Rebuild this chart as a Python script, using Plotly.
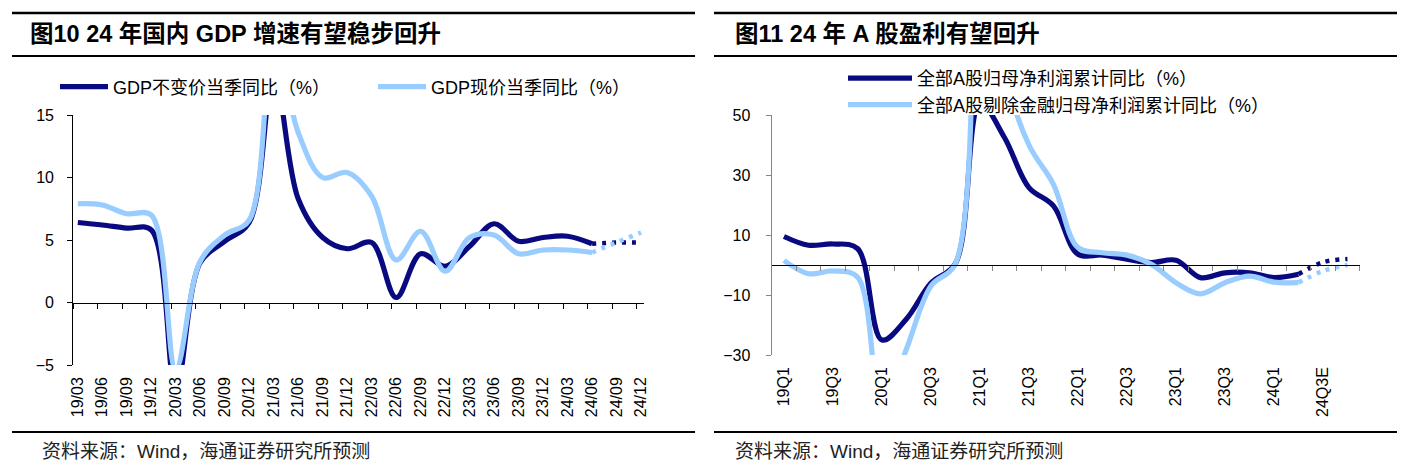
import plotly.graph_objects as go

# page places the figure 8px from the top-left corner (default body margin)
OFF = 8
W, H = 1405 - OFF, 471 - OFF

# ---------------- data ----------------
gdp_quarters = ["19/03", "19/06", "19/09", "19/12", "20/03", "20/06", "20/09", "20/12",
                "21/03", "21/06", "21/09", "21/12", "22/03", "22/06", "22/09", "22/12",
                "23/03", "23/06", "23/09", "23/12", "24/03", "24/06", "24/09", "24/12"]
gdp_real = [6.4, 6.2, 5.95, 5.8, -6.9, 3.2, 4.9, 6.4, 18.3, 8.3, 5.2, 4.3,
            4.8, 0.4, 3.9, 2.9, 4.5, 6.3, 4.9, 5.2, 5.3, 4.7]
gdp_real_fc = [4.7, 4.8, 4.8]          # 24/06 -> 24/12 forecast
gdp_nominal = [7.9, 7.8, 7.1, 7.0, -5.3, 3.3, 5.4, 6.6, 21.2, 13.6, 10.0, 10.4,
               8.5, 3.4, 5.7, 2.5, 5.2, 5.4, 3.9, 4.2, 4.2, 4.0]
gdp_nominal_fc = [4.0, 4.8, 5.6]

eq_quarters = ["19Q1", "19Q2", "19Q3", "19Q4", "20Q1", "20Q2", "20Q3", "20Q4",
               "21Q1", "21Q2", "21Q3", "21Q4", "22Q1", "22Q2", "22Q3", "22Q4",
               "23Q1", "23Q2", "23Q3", "23Q4", "24Q1", "24Q2", "24Q3E", "24Q4E"]
eq_all = [9.5, 6.6, 7.0, 5.5, -25.0, -18.0, -6.0, 0.5, 54.0, 42.5, 25.8, 19.7,
          3.6, 3.3, 1.9, 0.8, 1.6, -4.2, -2.6, -2.6, -4.2, -3.1]
eq_all_fc = [-3.1, 0.9, 2.0]
eq_exfin = [1.5, -2.9, -2.0, -4.0, -48.0, -28.0, -7.0, 0.5, 130.0, 65.0, 40.0, 26.9,
            5.8, 4.1, 3.3, 0.2, -5.9, -9.6, -5.9, -3.7, -5.7, -5.9]
eq_exfin_fc = [-5.9, -2.0, 0.0]

gdp_names = ["GDP不变价当季同比（%）", "GDP现价当季同比（%）"]
eq_names = ["全部A股归母净利润累计同比（%）", "全部A股剔除金融归母净利润累计同比（%）"]
titles = ["<b>图10 24 年国内 GDP 增速有望稳步回升</b>", "<b>图11 24 年 A 股盈利有望回升</b>"]
source = "资料来源：Wind，海通证券研究所预测"

DARK = "#0A0A80"
LIGHT = "#99CCFF"
FONT = "Arial, Liberation Sans, Noto Sans CJK SC, sans-serif"
LW = 5.2
FCW = 4.5
FCDASH = "4px,6px"


def px(v):
    return (v - OFF) / W


def py(v):
    return 1 - (v - OFF) / H


# ---------------- geometry (page pixels) ----------------
L_x0, L_x1 = 73.3, 644.0
L_y0, L_y1 = 115.0, 365.0
L_range = [-0.184, 23.12]
R_x0, R_x1 = 771.7, 1359.7
R_y0, R_y1 = 115.0, 355.0
R_range = [-0.5, 23.5]

fig = go.Figure()

n = len(gdp_real)
fig.add_trace(go.Scatter(x=gdp_quarters[:n], y=gdp_real, name=gdp_names[0], mode="lines",
                         line=dict(color=DARK, width=LW, shape="spline"),
                         xaxis="x", yaxis="y", legend="legend"))
fig.add_trace(go.Scatter(x=gdp_quarters[:n], y=gdp_nominal, name=gdp_names[1], mode="lines",
                         line=dict(color=LIGHT, width=LW, shape="spline"),
                         xaxis="x", yaxis="y", legend="legend"))
fig.add_trace(go.Scatter(x=gdp_quarters[n - 1:], y=gdp_real_fc, mode="lines", showlegend=False,
                         line=dict(color=DARK, width=FCW, dash=FCDASH, shape="spline"),
                         xaxis="x", yaxis="y"))
fig.add_trace(go.Scatter(x=gdp_quarters[n - 1:], y=gdp_nominal_fc, mode="lines", showlegend=False,
                         line=dict(color=LIGHT, width=FCW, dash=FCDASH, shape="spline"),
                         xaxis="x", yaxis="y"))

m = len(eq_all)
fig.add_trace(go.Scatter(x=eq_quarters[:m], y=eq_all, name=eq_names[0], mode="lines",
                         line=dict(color=DARK, width=LW, shape="spline"),
                         xaxis="x2", yaxis="y2", legend="legend2"))
fig.add_trace(go.Scatter(x=eq_quarters[:m], y=eq_exfin, name=eq_names[1], mode="lines",
                         line=dict(color=LIGHT, width=LW, shape="spline"),
                         xaxis="x2", yaxis="y2", legend="legend2"))
fig.add_trace(go.Scatter(x=eq_quarters[m - 1:], y=eq_all_fc, mode="lines", showlegend=False,
                         line=dict(color=DARK, width=FCW, dash=FCDASH, shape="spline"),
                         xaxis="x2", yaxis="y2"))
fig.add_trace(go.Scatter(x=eq_quarters[m - 1:], y=eq_exfin_fc, mode="lines", showlegend=False,
                         line=dict(color=LIGHT, width=FCW, dash=FCDASH, shape="spline"),
                         xaxis="x2", yaxis="y2"))

# dummy traces to register the zero-line axes
fig.add_trace(go.Scatter(x=[None], y=[None], xaxis="x3", yaxis="y", showlegend=False, hoverinfo="skip"))
fig.add_trace(go.Scatter(x=[None], y=[None], xaxis="x4", yaxis="y2", showlegend=False, hoverinfo="skip"))

tickfont = dict(family=FONT, size=16, color="black")

L_dom_y = [py(L_y1), py(L_y0)]
R_dom_y = [py(R_y1), py(R_y0)]
L_zero = L_dom_y[0] + (0 - (-5)) / 20 * (L_dom_y[1] - L_dom_y[0])
R_zero = R_dom_y[0] + (0 - (-30)) / 80 * (R_dom_y[1] - R_dom_y[0])

fig.update_layout(
    width=W, height=H, autosize=False,
    margin=dict(l=0, r=0, t=0, b=0, pad=0),
    paper_bgcolor="white", plot_bgcolor="white",
    font=dict(family=FONT, size=16, color="black"),
    xaxis=dict(domain=[px(L_x0), px(L_x1)], type="category", range=L_range,
               categoryorder="array", categoryarray=gdp_quarters,
               tickmode="array", tickvals=gdp_quarters, ticktext=gdp_quarters,
               showline=False, showgrid=False, zeroline=False, ticks="",
               tickangle=-90, tickfont=tickfont, ticklabelstandoff=8, anchor="y",
               automargin=False),
    yaxis=dict(domain=L_dom_y, range=[-5, 15], tickvals=[-5, 0, 5, 10, 15],
               showline=True, linecolor="black", linewidth=1.3, ticks="outside",
               ticklen=5, tickcolor="black", showgrid=False, zeroline=False,
               tickfont=tickfont, ticklabelstandoff=10, anchor="x", automargin=False),
    xaxis3=dict(overlaying="x", anchor="free", position=L_zero, range=L_range,
                tickmode="array", tickvals=[j - 0.184 for j in range(24)],
                showticklabels=False, showline=True, linecolor="black", linewidth=1.3,
                ticks="outside", ticklen=5, tickcolor="black", showgrid=False, zeroline=False,
                automargin=False),
    xaxis2=dict(domain=[px(R_x0), px(R_x1)], type="category", range=R_range,
                categoryorder="array", categoryarray=eq_quarters,
                tickmode="array", tickvals=eq_quarters[::2], ticktext=eq_quarters[::2],
                showline=False, showgrid=False, zeroline=False, ticks="",
                tickangle=-90, tickfont=tickfont, ticklabelstandoff=8, anchor="y2",
                automargin=False),
    yaxis2=dict(domain=R_dom_y, range=[-30, 50], tickvals=[-30, -10, 10, 30, 50],
                showline=True, linecolor="#868686", linewidth=1.3, ticks="outside",
                ticklen=5, tickcolor="#868686", showgrid=False, zeroline=False,
                tickfont=tickfont, ticklabelstandoff=12, anchor="x2", automargin=False),
    xaxis4=dict(overlaying="x2", anchor="free", position=R_zero, range=R_range,
                tickmode="array", tickvals=[j - 0.5 for j in range(25)],
                showticklabels=False, showline=True, linecolor="black", linewidth=1.3,
                ticks="outside", ticklen=5, tickcolor="#868686", showgrid=False, zeroline=False,
                automargin=False),
    legend=dict(orientation="h", x=px(55), y=py(87), xanchor="left", yanchor="middle",
                font=dict(family=FONT, size=18, color="black"), entrywidth=255,
                itemwidth=48, bgcolor="rgba(0,0,0,0)", traceorder="normal"),
    legend2=dict(orientation="v", x=px(843), y=py(60), xanchor="left", yanchor="top",
                 font=dict(family=FONT, size=18, color="black"), itemwidth=64,
                 bgcolor="rgba(0,0,0,0)", traceorder="normal", tracegroupgap=0),
    showlegend=True,
)

shapes = []
for (a, b) in [(12, 695), (714, 1400)]:
    shapes.append(dict(type="line", xref="paper", yref="paper", x0=px(a), x1=px(b),
                       y0=py(13), y1=py(13), line=dict(color="black", width=2.5)))
    shapes.append(dict(type="line", xref="paper", yref="paper", x0=px(a), x1=px(b),
                       y0=py(56), y1=py(56), line=dict(color="black", width=2)))
    shapes.append(dict(type="line", xref="paper", yref="paper", x0=px(a), x1=px(b),
                       y0=py(432), y1=py(432), line=dict(color="black", width=2)))
fig.update_layout(shapes=shapes)

ann = []
for xt, t in zip([28, 733], titles):
    ann.append(dict(xref="paper", yref="paper", x=px(xt), y=py(34), xanchor="left", yanchor="middle",
                    text=t, showarrow=False, font=dict(family=FONT, size=23.5, color="black")))
for xt in [40, 733]:
    ann.append(dict(xref="paper", yref="paper", x=px(xt), y=py(451), xanchor="left", yanchor="middle",
                    text=source, showarrow=False, font=dict(family=FONT, size=19, color="#222")))
fig.update_layout(annotations=ann)

fig.write_html("out.html")
